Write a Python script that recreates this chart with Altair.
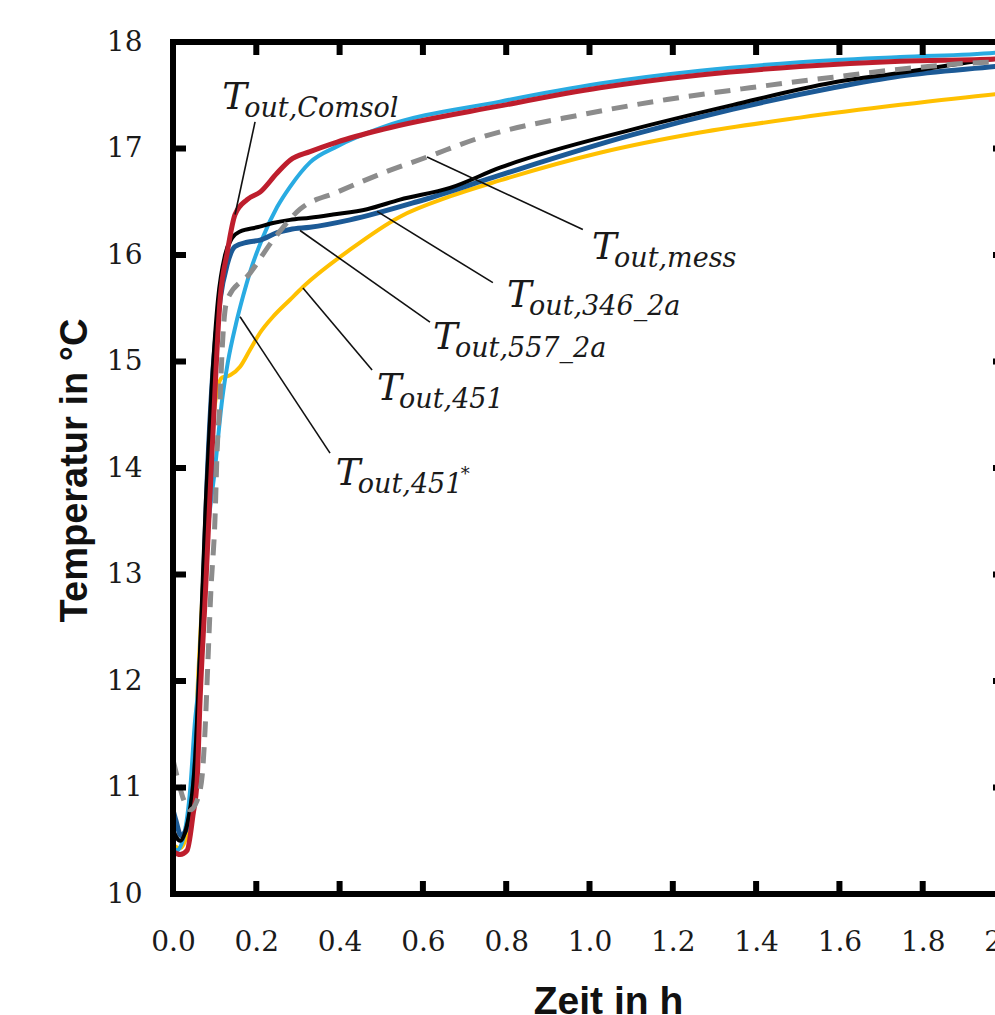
import altair as alt
import pandas as pd

# ---------------- data ----------------
red_x = [0, 0.017, 0.034, 0.048, 0.058, 0.065, 0.077, 0.094, 0.113, 0.130, 0.149, 0.178, 0.209, 0.250,
         0.281, 0.329, 0.394, 0.504, 0.785, 1.025, 1.265, 1.505, 1.746, 1.974, 2.0]
red_y = [10.40, 10.37, 10.41, 10.74, 11.07, 11.82, 12.76, 14.17, 15.58, 16.02, 16.38, 16.52, 16.59, 16.77,
         16.89, 16.97, 17.06, 17.18, 17.40, 17.57, 17.69, 17.77, 17.82, 17.84, 17.85]

lblue_x = [0, 0.010, 0.029, 0.041, 0.053, 0.058, 0.070, 0.082, 0.101, 0.118, 0.132, 0.151, 0.168, 0.185,
           0.216, 0.250, 0.281, 0.329, 0.394, 0.504, 0.785, 1.025, 1.265, 1.505, 1.746, 1.974, 2.0]
lblue_y = [10.43, 10.41, 10.60, 10.97, 11.63, 11.82, 12.57, 13.33, 14.00, 14.64, 15.00, 15.35, 15.61, 15.84,
           16.17, 16.45, 16.64, 16.87, 17.02, 17.20, 17.44, 17.61, 17.73, 17.81, 17.86, 17.90, 17.91]

black_x = [0, 0.017, 0.036, 0.053, 0.065, 0.079, 0.094, 0.108, 0.125, 0.142, 0.161, 0.202, 0.240, 0.281,
           0.329, 0.384, 0.466, 0.545, 0.665, 0.785, 1.104, 1.345, 1.585, 1.746, 1.974, 2.0]
black_y = [10.60, 10.50, 10.69, 11.26, 12.29, 13.70, 14.83, 15.58, 16.00, 16.16, 16.22, 16.26, 16.30, 16.33,
           16.35, 16.38, 16.43, 16.52, 16.63, 16.82, 17.18, 17.41, 17.62, 17.71, 17.84, 17.85]

dblue_x = [0, 0.007, 0.019, 0.031, 0.046, 0.058, 0.070, 0.082, 0.096, 0.113, 0.130, 0.149, 0.178, 0.209,
           0.250, 0.281, 0.329, 0.425, 0.586, 0.785, 1.104, 1.345, 1.585, 1.746, 1.974, 2.0]
dblue_y = [10.79, 10.69, 10.55, 10.60, 10.88, 11.54, 12.57, 13.89, 14.92, 15.58, 15.91, 16.08, 16.12, 16.14,
           16.21, 16.24, 16.26, 16.33, 16.50, 16.75, 17.13, 17.37, 17.57, 17.68, 17.77, 17.78]

yellow_x = [0, 0.017, 0.036, 0.050, 0.060, 0.070, 0.082, 0.094, 0.106, 0.118, 0.137, 0.161, 0.185, 0.209,
            0.240, 0.281, 0.312, 0.425, 0.545, 0.665, 0.785, 1.025, 1.265, 1.505, 1.746, 1.974, 2.0]
yellow_y = [10.46, 10.43, 10.60, 11.07, 12.01, 12.76, 13.70, 14.36, 14.73, 14.85, 14.87, 14.95, 15.11, 15.27,
            15.42, 15.58, 15.70, 16.05, 16.36, 16.55, 16.70, 16.96, 17.15, 17.29, 17.41, 17.51, 17.52]

gray_x = [0, 0.012, 0.026, 0.041, 0.058, 0.070, 0.077, 0.084, 0.091, 0.101, 0.106, 0.113, 0.118, 0.130,
          0.185, 0.240, 0.305, 0.394, 0.504, 0.610, 0.744, 0.984, 1.186, 1.385, 1.585, 1.786, 1.974, 2.0]
gray_y = [11.26, 11.07, 10.88, 10.79, 10.88, 11.11, 11.54, 12.20, 12.85, 13.54, 14.17, 14.64, 15.11, 15.58,
          15.83, 16.14, 16.43, 16.59, 16.77, 16.92, 17.11, 17.32, 17.46, 17.57, 17.67, 17.76, 17.81, 17.81]

# annotation leader lines (curve point -> label)
lead_x1 = [0.197, 0.610, 0.490, 0.305, 0.312, 0.161]
lead_y1 = [17.25, 16.92, 16.41, 16.23, 15.69, 15.42]
lead_x2 = [0.149, 0.984, 0.768, 0.617, 0.478, 0.377]
lead_y2 = [16.38, 16.24, 15.74, 15.37, 14.92, 14.14]

# annotation labels: "T" + subscript
lab_x = [0.118, 1.006, 0.802, 0.624, 0.490, 0.391]
lab_y = [17.37, 15.96, 15.51, 15.12, 14.64, 13.84]
lab_main = ["T", "T", "T", "T", "T", "T"]
lab_sub = ["out,Comsol", "out,mess", "out,346_2a", "out,557_2a", "out,451", "out,451"]
sup_x = [0.691]
sup_y = [13.89]
sup_text = ["*"]

x_ticks = [0.0, 0.2, 0.4, 0.6, 0.8, 1.0, 1.2, 1.4, 1.6, 1.8, 2.0]
y_ticks = [10, 11, 12, 13, 14, 15, 16, 17, 18]

# ---------------- chart ----------------
W_VIEW = 822      # visible part of the plot area (window is cropped on the right)
W_FULL = 833      # full x-range: 0 .. 2.0
H = 852
TICK = 13

xscale = alt.Scale(domain=[0, 2], range=[0, W_FULL], nice=False, zero=False)
yscale = alt.Scale(domain=[10, 18], nice=False, zero=False)

xaxis = alt.Axis(values=x_ticks, format=".1f", title="Zeit in h", grid=False, ticks=False, tickSize=0,
                 domain=False, labelFlush=False, labelOverlap=False,
                 labelFont="DejaVu Serif", labelFontSize=28, labelColor="#1a1a1a", labelPadding=34,
                 titleFont="Liberation Sans", titleFontSize=39, titleFontWeight="bold", titleColor="#111111",
                 titleX=435, titleY=119, titleBaseline="alphabetic", titleAlign="center")
yaxis = alt.Axis(values=y_ticks, format="d", title="Temperatur in °C", grid=False, ticks=False, tickSize=0,
                 domain=False, labelFlush=False, labelOverlap=False,
                 labelFont="DejaVu Serif", labelFontSize=28, labelColor="#1a1a1a", labelPadding=31,
                 titleFont="Liberation Sans", titleFontSize=38, titleFontWeight="bold", titleColor="#111111",
                 titleAngle=-90, titleX=-98, titleY=H / 2 + 2, titleAlign="center", titleBaseline="middle")

X = alt.X("x:Q", scale=xscale, axis=xaxis)
Y = alt.Y("y:Q", scale=yscale, axis=yaxis)


def series(xs, ys, color, width, dash=None):
    df = pd.DataFrame({"x": xs, "y": ys})
    kw = dict(color=color, strokeWidth=width, interpolate="monotone", strokeCap="butt")
    if dash:
        kw["strokeDash"] = dash
    return alt.Chart(df).mark_line(**kw).encode(x=X, y=Y)


one = pd.DataFrame({"d": [0]})
frame_left = alt.Chart(one).mark_rule(color="black", strokeWidth=6).encode(
    x=alt.value(0), y=alt.value(-3), y2=alt.value(H + 3))
frame_top = alt.Chart(one).mark_rule(color="black", strokeWidth=6).encode(
    y=alt.value(0), x=alt.value(-3), x2=alt.value(W_FULL + 3))
frame_bottom = alt.Chart(one).mark_rule(color="black", strokeWidth=6).encode(
    y=alt.value(H), x=alt.value(-3), x2=alt.value(W_FULL + 3))
frame_right = alt.Chart(one).mark_rule(color="black", strokeWidth=6).encode(
    x=alt.value(W_FULL), y=alt.value(-3), y2=alt.value(H + 3))

xt = pd.DataFrame({"x": x_ticks})
yt = pd.DataFrame({"y": y_ticks})
tick_bottom = alt.Chart(xt).mark_rule(color="black", strokeWidth=6).encode(
    x=X, y=alt.value(H), y2=alt.value(H - TICK))
tick_top = alt.Chart(xt).mark_rule(color="black", strokeWidth=6).encode(
    x=X, y=alt.value(0), y2=alt.value(TICK))
tick_left = alt.Chart(yt).mark_rule(color="black", strokeWidth=6).encode(
    y=Y, x=alt.value(0), x2=alt.value(TICK))
tick_right = alt.Chart(yt).mark_rule(color="black", strokeWidth=6).encode(
    y=Y, x=alt.value(W_FULL), x2=alt.value(W_FULL - TICK))

lead_df = pd.DataFrame({"x": lead_x1, "y": lead_y1, "x2": lead_x2, "y2": lead_y2})
leaders = alt.Chart(lead_df).mark_rule(color="#111111", strokeWidth=1.6).encode(
    x=X, y=Y, x2="x2:Q", y2="y2:Q")

lab_df = pd.DataFrame({"x": lab_x, "y": lab_y, "main": lab_main, "sub": lab_sub})
lab_T = alt.Chart(lab_df).mark_text(font="DejaVu Serif", fontStyle="italic", fontSize=37, align="left",
                                    baseline="alphabetic", color="#1a1a1a").encode(x=X, y=Y, text="main:N")
lab_S = alt.Chart(lab_df).mark_text(font="DejaVu Serif", fontStyle="italic", fontSize=27, align="left",
                                    baseline="alphabetic", color="#1a1a1a", dx=22, dy=8).encode(
    x=X, y=Y, text="sub:N")
sup_df = pd.DataFrame({"x": sup_x, "y": sup_y, "t": sup_text})
lab_sup = alt.Chart(sup_df).mark_text(font="DejaVu Serif", fontSize=18, align="left",
                                      baseline="alphabetic", color="#1a1a1a").encode(x=X, y=Y, text="t:N")

chart = alt.layer(
    series(yellow_x, yellow_y, "#FFC000", 4),
    series(lblue_x, lblue_y, "#29ABE2", 4),
    series(dblue_x, dblue_y, "#1C5A96", 5),
    series(black_x, black_y, "#000000", 4),
    series(red_x, red_y, "#BE1E2D", 5),
    series(gray_x, gray_y, "#8C8C8C", 5, dash=[16, 10]),
    frame_left, frame_top, frame_bottom, frame_right,
    tick_bottom, tick_top, tick_left, tick_right,
    leaders, lab_T, lab_S, lab_sup,
).properties(
    width=W_VIEW, height=H,
    autosize=alt.AutoSizeParams(type="none"),
    padding={"left": 173, "top": 42, "right": 0, "bottom": 121},
    background="white",
).configure_view(strokeWidth=0)

chart.save("out.html", embed_options={"renderer": "svg", "actions": False})
